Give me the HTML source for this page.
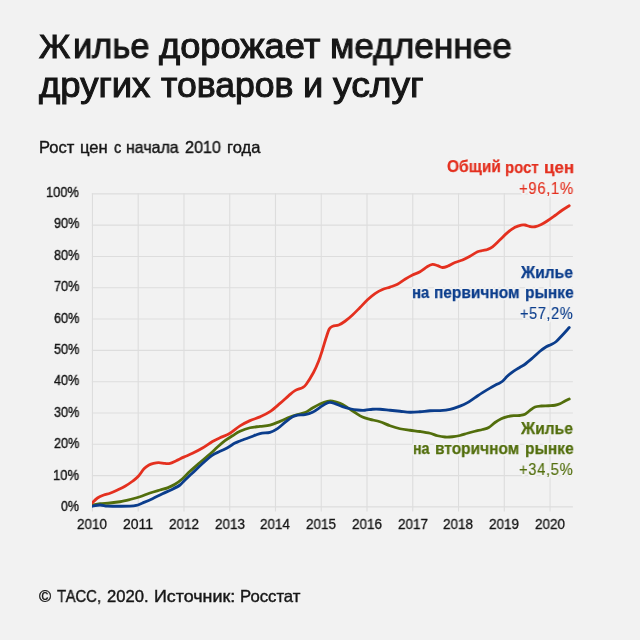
<!DOCTYPE html>
<html><head><meta charset="utf-8">
<style>
html,body{margin:0;padding:0;}
body{width:640px;height:640px;background:#f2f2f2;position:relative;overflow:hidden;font-family:"Liberation Sans",sans-serif;}
.t{position:absolute;white-space:nowrap;line-height:1;transform-origin:0 0;will-change:transform;}
svg{position:absolute;left:0;top:0;}
</style></head><body>
<svg width="640" height="640" viewBox="0 0 640 640">
<g stroke="#dddddd" stroke-width="1.1" fill="none"><line x1="92.45" y1="193.25" x2="92.45" y2="511.50"/><line x1="138.21" y1="193.25" x2="138.21" y2="511.50"/><line x1="183.97" y1="193.25" x2="183.97" y2="511.50"/><line x1="229.73" y1="193.25" x2="229.73" y2="511.50"/><line x1="275.49" y1="193.25" x2="275.49" y2="511.50"/><line x1="321.25" y1="193.25" x2="321.25" y2="511.50"/><line x1="367.01" y1="193.25" x2="367.01" y2="511.50"/><line x1="412.77" y1="193.25" x2="412.77" y2="511.50"/><line x1="458.53" y1="193.25" x2="458.53" y2="511.50"/><line x1="504.29" y1="193.25" x2="504.29" y2="511.50"/><line x1="550.05" y1="193.25" x2="550.05" y2="511.50"/><line x1="91.85" y1="506.90" x2="572.90" y2="506.90"/><line x1="91.85" y1="475.59" x2="572.90" y2="475.59"/><line x1="91.85" y1="444.29" x2="572.90" y2="444.29"/><line x1="91.85" y1="412.99" x2="572.90" y2="412.99"/><line x1="91.85" y1="381.68" x2="572.90" y2="381.68"/><line x1="91.85" y1="350.38" x2="572.90" y2="350.38"/><line x1="91.85" y1="319.07" x2="572.90" y2="319.07"/><line x1="91.85" y1="287.76" x2="572.90" y2="287.76"/><line x1="91.85" y1="256.46" x2="572.90" y2="256.46"/><line x1="91.85" y1="225.15" x2="572.90" y2="225.15"/><line x1="91.85" y1="193.85" x2="572.90" y2="193.85"/></g>
<clipPath id="cp"><rect x="91.9" y="150" width="520" height="400"/></clipPath>
<g fill="none" stroke-width="2.8" stroke-linecap="round" stroke-linejoin="round" clip-path="url(#cp)">
<path stroke="#526e0c" d="M92.00 505.00 C93.33 504.79 97.00 504.08 100.00 503.75 C103.00 503.42 106.67 503.33 110.00 503.00 C113.33 502.67 116.67 502.33 120.00 501.75 C123.33 501.17 126.67 500.33 130.00 499.50 C133.33 498.67 136.67 497.83 140.00 496.75 C143.33 495.67 146.67 494.12 150.00 493.00 C153.33 491.88 157.08 490.85 160.00 490.00 C162.92 489.15 165.00 488.83 167.50 487.88 C170.00 486.92 172.50 485.77 175.00 484.25 C177.50 482.73 180.00 480.92 182.50 478.75 C185.00 476.58 187.08 473.96 190.00 471.25 C192.92 468.54 196.67 465.38 200.00 462.50 C203.33 459.62 207.08 456.57 210.00 454.00 C212.92 451.43 215.00 449.27 217.50 447.05 C220.00 444.83 222.50 442.58 225.00 440.70 C227.50 438.82 230.00 437.32 232.50 435.75 C235.00 434.18 237.08 432.63 240.00 431.30 C242.92 429.97 246.67 428.57 250.00 427.75 C253.33 426.93 256.67 426.84 260.00 426.40 C263.33 425.96 266.67 425.97 270.00 425.13 C273.33 424.29 276.67 422.70 280.00 421.36 C283.33 420.02 287.08 418.22 290.00 417.09 C292.92 415.96 295.00 415.33 297.50 414.57 C300.00 413.82 302.50 413.65 305.00 412.56 C307.50 411.47 310.00 409.45 312.50 408.01 C315.00 406.58 317.50 405.10 320.00 403.98 C322.50 402.85 325.42 401.73 327.50 401.25 C329.58 400.77 330.42 400.78 332.50 401.12 C334.58 401.47 337.50 402.23 340.00 403.30 C342.50 404.38 345.00 406.04 347.50 407.57 C350.00 409.11 352.50 410.92 355.00 412.50 C357.50 414.08 360.00 415.92 362.50 417.06 C365.00 418.21 367.08 418.59 370.00 419.37 C372.92 420.15 376.67 420.69 380.00 421.75 C383.33 422.81 386.67 424.58 390.00 425.75 C393.33 426.92 396.67 428.00 400.00 428.75 C403.33 429.50 406.67 429.79 410.00 430.25 C413.33 430.71 416.67 431.00 420.00 431.50 C423.33 432.00 427.08 432.54 430.00 433.25 C432.92 433.96 435.00 435.12 437.50 435.75 C440.00 436.38 442.50 436.83 445.00 437.00 C447.50 437.17 450.00 437.00 452.50 436.75 C455.00 436.50 457.50 436.08 460.00 435.50 C462.50 434.92 465.00 433.96 467.50 433.25 C470.00 432.54 472.50 431.88 475.00 431.25 C477.50 430.62 480.21 430.12 482.50 429.50 C484.79 428.88 486.67 428.67 488.75 427.50 C490.83 426.33 492.92 423.96 495.00 422.50 C497.08 421.04 499.17 419.73 501.25 418.75 C503.33 417.77 505.42 417.14 507.50 416.62 C509.58 416.11 511.67 415.88 513.75 415.69 C515.83 415.50 518.12 415.74 520.00 415.50 C521.88 415.26 523.33 415.11 525.00 414.25 C526.67 413.39 528.33 411.57 530.00 410.36 C531.67 409.15 533.12 407.73 535.00 407.00 C536.88 406.27 538.96 406.21 541.25 406.00 C543.54 405.79 546.46 405.88 548.75 405.75 C551.04 405.62 553.12 405.58 555.00 405.25 C556.88 404.92 558.33 404.46 560.00 403.75 C561.67 403.04 563.46 401.79 565.00 401.00 C566.54 400.21 568.54 399.33 569.25 399.00"/>
<path stroke="#0b3d8c" d="M92.00 506.25 C93.33 506.04 97.42 505.02 100.00 505.00 C102.58 504.98 104.58 505.94 107.50 506.15 C110.42 506.36 113.75 506.25 117.50 506.25 C121.25 506.25 126.88 506.29 130.00 506.15 C133.12 506.01 134.17 505.96 136.25 505.44 C138.33 504.91 139.79 504.11 142.50 503.00 C145.21 501.89 149.17 500.29 152.50 498.75 C155.83 497.21 159.17 495.33 162.50 493.75 C165.83 492.17 169.58 490.71 172.50 489.25 C175.42 487.79 177.92 486.54 180.00 485.00 C182.08 483.46 182.92 481.98 185.00 480.00 C187.08 478.02 189.58 475.84 192.50 473.10 C195.42 470.35 199.17 466.51 202.50 463.52 C205.83 460.52 209.58 457.16 212.50 455.12 C215.42 453.09 217.50 452.56 220.00 451.32 C222.50 450.07 225.00 449.04 227.50 447.67 C230.00 446.30 232.92 444.21 235.00 443.10 C237.08 441.99 237.50 441.97 240.00 441.00 C242.50 440.03 246.67 438.51 250.00 437.27 C253.33 436.03 256.67 434.37 260.00 433.54 C263.33 432.72 267.08 433.14 270.00 432.32 C272.92 431.49 275.00 430.24 277.50 428.58 C280.00 426.92 282.50 424.31 285.00 422.35 C287.50 420.39 290.42 418.06 292.50 416.85 C294.58 415.64 295.42 415.48 297.50 415.10 C299.58 414.73 302.50 415.07 305.00 414.60 C307.50 414.13 310.00 413.48 312.50 412.28 C315.00 411.08 317.71 408.88 320.00 407.40 C322.29 405.92 324.58 404.23 326.25 403.40 C327.92 402.57 328.54 402.36 330.00 402.40 C331.46 402.44 332.92 402.96 335.00 403.65 C337.08 404.34 340.00 405.70 342.50 406.55 C345.00 407.40 347.50 408.18 350.00 408.75 C352.50 409.32 355.00 409.75 357.50 410.00 C360.00 410.25 362.50 410.38 365.00 410.25 C367.50 410.12 370.00 409.42 372.50 409.25 C375.00 409.08 377.08 409.08 380.00 409.25 C382.92 409.42 386.67 409.92 390.00 410.25 C393.33 410.58 396.67 410.92 400.00 411.25 C403.33 411.58 406.67 412.17 410.00 412.25 C413.33 412.33 416.67 412.00 420.00 411.75 C423.33 411.50 426.67 410.95 430.00 410.75 C433.33 410.55 436.67 410.78 440.00 410.55 C443.33 410.32 446.67 410.09 450.00 409.35 C453.33 408.61 457.08 407.23 460.00 406.10 C462.92 404.98 465.00 404.02 467.50 402.60 C470.00 401.18 472.50 399.27 475.00 397.60 C477.50 395.93 480.00 394.18 482.50 392.60 C485.00 391.02 487.50 389.52 490.00 388.10 C492.50 386.68 495.42 385.23 497.50 384.09 C499.58 382.95 500.83 382.60 502.50 381.26 C504.17 379.92 505.62 377.75 507.50 376.05 C509.38 374.35 511.67 372.52 513.75 371.05 C515.83 369.58 518.12 368.36 520.00 367.23 C521.88 366.10 522.92 365.79 525.00 364.25 C527.08 362.71 530.00 360.17 532.50 358.00 C535.00 355.83 537.71 353.12 540.00 351.25 C542.29 349.38 544.38 347.88 546.25 346.75 C548.12 345.62 549.58 345.38 551.25 344.50 C552.92 343.62 554.38 343.08 556.25 341.50 C558.12 339.92 560.33 337.33 562.50 335.00 C564.67 332.67 568.12 328.75 569.25 327.50"/>
<path stroke="#e4301f" d="M92.00 503.00 C92.92 502.17 95.54 499.33 97.50 498.00 C99.46 496.67 101.67 495.79 103.75 495.00 C105.83 494.21 107.71 494.08 110.00 493.25 C112.29 492.42 115.00 491.17 117.50 490.00 C120.00 488.83 122.50 487.71 125.00 486.25 C127.50 484.79 130.28 482.92 132.50 481.25 C134.72 479.58 136.42 478.33 138.33 476.25 C140.25 474.17 142.22 470.62 144.00 468.75 C145.78 466.88 147.42 465.90 149.00 465.00 C150.58 464.10 151.88 463.73 153.50 463.33 C155.12 462.93 156.83 462.57 158.75 462.59 C160.67 462.61 163.12 463.31 165.00 463.45 C166.88 463.59 168.12 463.89 170.00 463.43 C171.88 462.96 173.96 461.70 176.25 460.65 C178.54 459.60 181.04 458.34 183.75 457.12 C186.46 455.90 189.38 454.84 192.50 453.33 C195.62 451.81 199.17 450.00 202.50 448.03 C205.83 446.07 209.58 443.26 212.50 441.55 C215.42 439.84 217.08 439.19 220.00 437.80 C222.92 436.41 226.67 435.18 230.00 433.20 C233.33 431.22 236.67 427.99 240.00 425.90 C243.33 423.81 246.67 422.15 250.00 420.65 C253.33 419.15 256.67 418.39 260.00 416.90 C263.33 415.41 266.67 413.93 270.00 411.68 C273.33 409.44 276.88 406.11 280.00 403.43 C283.12 400.74 286.25 397.74 288.75 395.60 C291.25 393.46 292.71 391.93 295.00 390.60 C297.29 389.27 300.62 388.67 302.50 387.60 C304.38 386.53 304.42 386.72 306.25 384.20 C308.08 381.68 311.44 376.32 313.50 372.50 C315.56 368.68 317.10 365.00 318.58 361.25 C320.06 357.50 321.12 353.96 322.39 350.00 C323.66 346.04 325.03 341.04 326.20 337.50 C327.37 333.96 328.33 330.62 329.43 328.75 C330.52 326.88 331.20 326.88 332.75 326.25 C334.30 325.62 336.71 325.83 338.75 325.00 C340.79 324.17 342.71 322.92 345.00 321.25 C347.29 319.58 350.00 317.29 352.50 315.00 C355.00 312.71 357.50 310.03 360.00 307.50 C362.50 304.97 365.00 302.14 367.50 299.82 C370.00 297.51 372.50 295.33 375.00 293.60 C377.50 291.88 380.00 290.57 382.50 289.49 C385.00 288.40 387.50 287.97 390.00 287.10 C392.50 286.23 395.00 285.56 397.50 284.25 C400.00 282.94 402.50 280.79 405.00 279.25 C407.50 277.71 410.00 276.25 412.50 275.00 C415.00 273.75 417.50 273.16 420.00 271.75 C422.50 270.34 425.42 267.75 427.50 266.54 C429.58 265.32 430.83 264.64 432.50 264.48 C434.17 264.32 435.83 265.06 437.50 265.57 C439.17 266.07 440.83 267.39 442.50 267.50 C444.17 267.61 445.42 267.08 447.50 266.25 C449.58 265.42 452.50 263.54 455.00 262.50 C457.50 261.46 460.00 261.04 462.50 260.00 C465.00 258.96 467.50 257.62 470.00 256.25 C472.50 254.88 475.42 252.71 477.50 251.75 C479.58 250.79 480.83 250.88 482.50 250.50 C484.17 250.12 485.83 250.11 487.50 249.50 C489.17 248.89 490.42 248.47 492.50 246.85 C494.58 245.22 497.50 242.13 500.00 239.75 C502.50 237.37 505.00 234.62 507.50 232.55 C510.00 230.48 512.71 228.60 515.00 227.35 C517.29 226.10 519.58 225.46 521.25 225.06 C522.92 224.67 523.54 224.76 525.00 225.00 C526.46 225.24 528.33 226.21 530.00 226.50 C531.67 226.79 533.12 227.08 535.00 226.75 C536.88 226.42 539.17 225.50 541.25 224.50 C543.33 223.50 545.21 222.25 547.50 220.75 C549.79 219.25 552.50 217.29 555.00 215.50 C557.50 213.71 560.12 211.62 562.50 210.00 C564.88 208.38 568.12 206.46 569.25 205.75"/>
</g>
</svg>
<div class="t" style="left:39.33px;top:30.02px;font-size:33.6px;color:#161616;-webkit-text-stroke:1.05px #161616;transform:scaleX(1.0080);">Ж</div>
<div class="t" style="left:72.57px;top:28.93px;font-size:35.6px;color:#161616;-webkit-text-stroke:1.05px #161616;transform:scaleX(0.9673);">илье</div>
<div class="t" style="left:158.99px;top:28.93px;font-size:35.6px;color:#161616;-webkit-text-stroke:1.05px #161616;transform:scaleX(1.0192);">дорожает</div>
<div class="t" style="left:329.92px;top:28.93px;font-size:35.6px;color:#161616;-webkit-text-stroke:1.05px #161616;transform:scaleX(0.9910);">медленнее</div>
<div class="t" style="left:38.79px;top:67.73px;font-size:35.6px;color:#161616;-webkit-text-stroke:1.05px #161616;transform:scaleX(1.0256);">других</div>
<div class="t" style="left:161.22px;top:67.73px;font-size:35.6px;color:#161616;-webkit-text-stroke:1.05px #161616;transform:scaleX(1.0004);">товаров</div>
<div class="t" style="left:302.97px;top:67.73px;font-size:35.6px;color:#161616;-webkit-text-stroke:1.05px #161616;transform:scaleX(1.0173);">и</div>
<div class="t" style="left:333.20px;top:67.73px;font-size:35.6px;color:#161616;-webkit-text-stroke:1.05px #161616;transform:scaleX(1.0455);">услуг</div>
<div class="t" style="left:38.91px;top:138.83px;font-size:16.5px;color:#161616;-webkit-text-stroke:0.4px #161616;transform:scaleX(0.9954);">Рост</div>
<div class="t" style="left:79.70px;top:138.83px;font-size:16.5px;color:#161616;-webkit-text-stroke:0.4px #161616;transform:scaleX(1.0073);">цен</div>
<div class="t" style="left:113.55px;top:138.83px;font-size:16.5px;color:#161616;-webkit-text-stroke:0.4px #161616;transform:scaleX(0.8770);">с</div>
<div class="t" style="left:126.49px;top:138.83px;font-size:16.5px;color:#161616;-webkit-text-stroke:0.4px #161616;transform:scaleX(0.9667);">начала</div>
<div class="t" style="left:185.24px;top:138.83px;font-size:16.5px;color:#161616;-webkit-text-stroke:0.4px #161616;transform:scaleX(0.9796);">2010</div>
<div class="t" style="left:226.96px;top:138.83px;font-size:16.5px;color:#161616;-webkit-text-stroke:0.4px #161616;transform:scaleX(1.0022);">года</div>
<div class="t" style="left:39.42px;top:587.93px;font-size:16.5px;color:#161616;-webkit-text-stroke:0.4px #161616;transform:scaleX(0.9901);">©</div>
<div class="t" style="left:57.41px;top:587.93px;font-size:16.5px;color:#161616;-webkit-text-stroke:0.4px #161616;transform:scaleX(0.9089);">ТАСС,</div>
<div class="t" style="left:106.74px;top:587.93px;font-size:16.5px;color:#161616;-webkit-text-stroke:0.4px #161616;transform:scaleX(1.0078);">2020.</div>
<div class="t" style="left:153.82px;top:587.93px;font-size:16.5px;color:#161616;-webkit-text-stroke:0.4px #161616;transform:scaleX(1.0819);">Источник:</div>
<div class="t" style="left:240.14px;top:587.93px;font-size:16.5px;color:#161616;-webkit-text-stroke:0.4px #161616;transform:scaleX(1.0123);">Росстат</div>
<div class="t" style="left:61.14px;top:498.54px;font-size:14px;color:#161616;-webkit-text-stroke:0.4px #161616;transform:scaleX(0.8877);">0%</div>
<div class="t" style="left:52.85px;top:467.63px;font-size:14px;color:#161616;-webkit-text-stroke:0.4px #161616;transform:scaleX(0.9329);">10%</div>
<div class="t" style="left:53.62px;top:435.71px;font-size:14px;color:#161616;-webkit-text-stroke:0.4px #161616;transform:scaleX(0.9051);">20%</div>
<div class="t" style="left:53.64px;top:404.80px;font-size:14px;color:#161616;-webkit-text-stroke:0.4px #161616;transform:scaleX(0.9043);">30%</div>
<div class="t" style="left:53.70px;top:372.88px;font-size:14px;color:#161616;-webkit-text-stroke:0.4px #161616;transform:scaleX(0.9020);">40%</div>
<div class="t" style="left:53.59px;top:341.97px;font-size:14px;color:#161616;-webkit-text-stroke:0.4px #161616;transform:scaleX(0.9061);">50%</div>
<div class="t" style="left:53.59px;top:311.05px;font-size:14px;color:#161616;-webkit-text-stroke:0.4px #161616;transform:scaleX(0.9060);">60%</div>
<div class="t" style="left:53.61px;top:279.14px;font-size:14px;color:#161616;-webkit-text-stroke:0.4px #161616;transform:scaleX(0.9055);">70%</div>
<div class="t" style="left:53.62px;top:248.22px;font-size:14px;color:#161616;-webkit-text-stroke:0.4px #161616;transform:scaleX(0.9051);">80%</div>
<div class="t" style="left:53.60px;top:216.31px;font-size:14px;color:#161616;-webkit-text-stroke:0.4px #161616;transform:scaleX(0.9059);">90%</div>
<div class="t" style="left:45.86px;top:185.39px;font-size:14px;color:#161616;-webkit-text-stroke:0.4px #161616;transform:scaleX(0.9218);">100%</div>
<div class="t" style="left:77.32px;top:517.44px;font-size:14px;color:#161616;-webkit-text-stroke:0.3px #161616;transform:scaleX(0.9652);">2010</div>
<div class="t" style="left:123.07px;top:517.44px;font-size:14px;color:#161616;-webkit-text-stroke:0.3px #161616;transform:scaleX(0.9983);">2011</div>
<div class="t" style="left:168.84px;top:517.44px;font-size:14px;color:#161616;-webkit-text-stroke:0.3px #161616;transform:scaleX(0.9659);">2012</div>
<div class="t" style="left:214.60px;top:517.44px;font-size:14px;color:#161616;-webkit-text-stroke:0.3px #161616;transform:scaleX(0.9660);">2013</div>
<div class="t" style="left:260.36px;top:517.44px;font-size:14px;color:#161616;-webkit-text-stroke:0.3px #161616;transform:scaleX(0.9625);">2014</div>
<div class="t" style="left:306.12px;top:517.44px;font-size:14px;color:#161616;-webkit-text-stroke:0.3px #161616;transform:scaleX(0.9656);">2015</div>
<div class="t" style="left:351.88px;top:517.44px;font-size:14px;color:#161616;-webkit-text-stroke:0.3px #161616;transform:scaleX(0.9657);">2016</div>
<div class="t" style="left:397.64px;top:517.44px;font-size:14px;color:#161616;-webkit-text-stroke:0.3px #161616;transform:scaleX(0.9659);">2017</div>
<div class="t" style="left:443.40px;top:517.44px;font-size:14px;color:#161616;-webkit-text-stroke:0.3px #161616;transform:scaleX(0.9659);">2018</div>
<div class="t" style="left:489.16px;top:517.44px;font-size:14px;color:#161616;-webkit-text-stroke:0.3px #161616;transform:scaleX(0.9664);">2019</div>
<div class="t" style="left:534.92px;top:517.44px;font-size:14px;color:#161616;-webkit-text-stroke:0.3px #161616;transform:scaleX(0.9652);">2020</div>
<div class="t" style="left:447.23px;top:158.28px;font-size:16.5px;color:#e4301f;font-weight:bold;-webkit-text-stroke:0.25px #e4301f;transform:scaleX(0.9423);text-shadow:-2px -1px 0 #f2f2f2,-2px 0px 0 #f2f2f2,-2px 1px 0 #f2f2f2,-1px -2px 0 #f2f2f2,-1px -1px 0 #f2f2f2,-1px 0px 0 #f2f2f2,-1px 1px 0 #f2f2f2,-1px 2px 0 #f2f2f2,0px -2px 0 #f2f2f2,0px -1px 0 #f2f2f2,0px 1px 0 #f2f2f2,0px 2px 0 #f2f2f2,1px -2px 0 #f2f2f2,1px -1px 0 #f2f2f2,1px 0px 0 #f2f2f2,1px 1px 0 #f2f2f2,1px 2px 0 #f2f2f2,2px -1px 0 #f2f2f2,2px 0px 0 #f2f2f2,2px 1px 0 #f2f2f2;">Общий</div>
<div class="t" style="left:504.68px;top:158.77px;font-size:17.1px;color:#e4301f;font-weight:bold;-webkit-text-stroke:0.25px #e4301f;transform:scaleX(0.8717);text-shadow:-2px -1px 0 #f2f2f2,-2px 0px 0 #f2f2f2,-2px 1px 0 #f2f2f2,-1px -2px 0 #f2f2f2,-1px -1px 0 #f2f2f2,-1px 0px 0 #f2f2f2,-1px 1px 0 #f2f2f2,-1px 2px 0 #f2f2f2,0px -2px 0 #f2f2f2,0px -1px 0 #f2f2f2,0px 1px 0 #f2f2f2,0px 2px 0 #f2f2f2,1px -2px 0 #f2f2f2,1px -1px 0 #f2f2f2,1px 0px 0 #f2f2f2,1px 1px 0 #f2f2f2,1px 2px 0 #f2f2f2,2px -1px 0 #f2f2f2,2px 0px 0 #f2f2f2,2px 1px 0 #f2f2f2;">рост</div>
<div class="t" style="left:544.35px;top:158.77px;font-size:17.1px;color:#e4301f;font-weight:bold;-webkit-text-stroke:0.25px #e4301f;transform:scaleX(0.9915);text-shadow:-2px -1px 0 #f2f2f2,-2px 0px 0 #f2f2f2,-2px 1px 0 #f2f2f2,-1px -2px 0 #f2f2f2,-1px -1px 0 #f2f2f2,-1px 0px 0 #f2f2f2,-1px 1px 0 #f2f2f2,-1px 2px 0 #f2f2f2,0px -2px 0 #f2f2f2,0px -1px 0 #f2f2f2,0px 1px 0 #f2f2f2,0px 2px 0 #f2f2f2,1px -2px 0 #f2f2f2,1px -1px 0 #f2f2f2,1px 0px 0 #f2f2f2,1px 1px 0 #f2f2f2,1px 2px 0 #f2f2f2,2px -1px 0 #f2f2f2,2px 0px 0 #f2f2f2,2px 1px 0 #f2f2f2;">цен</div>
<div class="t" style="left:519.10px;top:180.08px;font-size:16.5px;color:#e4301f;-webkit-text-stroke:0.15px #e4301f;transform:scaleX(0.9046);text-shadow:-2px -1px 0 #f2f2f2,-2px 0px 0 #f2f2f2,-2px 1px 0 #f2f2f2,-1px -2px 0 #f2f2f2,-1px -1px 0 #f2f2f2,-1px 0px 0 #f2f2f2,-1px 1px 0 #f2f2f2,-1px 2px 0 #f2f2f2,0px -2px 0 #f2f2f2,0px -1px 0 #f2f2f2,0px 1px 0 #f2f2f2,0px 2px 0 #f2f2f2,1px -2px 0 #f2f2f2,1px -1px 0 #f2f2f2,1px 0px 0 #f2f2f2,1px 1px 0 #f2f2f2,1px 2px 0 #f2f2f2,2px -1px 0 #f2f2f2,2px 0px 0 #f2f2f2,2px 1px 0 #f2f2f2;letter-spacing:0.7px;">+96,1%</div>
<div class="t" style="left:521.10px;top:263.58px;font-size:16.5px;color:#0b3d8c;font-weight:bold;-webkit-text-stroke:0.25px #0b3d8c;transform:scaleX(0.9465);text-shadow:-2px -1px 0 #f2f2f2,-2px 0px 0 #f2f2f2,-2px 1px 0 #f2f2f2,-1px -2px 0 #f2f2f2,-1px -1px 0 #f2f2f2,-1px 0px 0 #f2f2f2,-1px 1px 0 #f2f2f2,-1px 2px 0 #f2f2f2,0px -2px 0 #f2f2f2,0px -1px 0 #f2f2f2,0px 1px 0 #f2f2f2,0px 2px 0 #f2f2f2,1px -2px 0 #f2f2f2,1px -1px 0 #f2f2f2,1px 0px 0 #f2f2f2,1px 1px 0 #f2f2f2,1px 2px 0 #f2f2f2,2px -1px 0 #f2f2f2,2px 0px 0 #f2f2f2,2px 1px 0 #f2f2f2;">Жилье</div>
<div class="t" style="left:411.58px;top:284.27px;font-size:17.1px;color:#0b3d8c;font-weight:bold;-webkit-text-stroke:0.25px #0b3d8c;transform:scaleX(0.8704);text-shadow:-2px -1px 0 #f2f2f2,-2px 0px 0 #f2f2f2,-2px 1px 0 #f2f2f2,-1px -2px 0 #f2f2f2,-1px -1px 0 #f2f2f2,-1px 0px 0 #f2f2f2,-1px 1px 0 #f2f2f2,-1px 2px 0 #f2f2f2,0px -2px 0 #f2f2f2,0px -1px 0 #f2f2f2,0px 1px 0 #f2f2f2,0px 2px 0 #f2f2f2,1px -2px 0 #f2f2f2,1px -1px 0 #f2f2f2,1px 0px 0 #f2f2f2,1px 1px 0 #f2f2f2,1px 2px 0 #f2f2f2,2px -1px 0 #f2f2f2,2px 0px 0 #f2f2f2,2px 1px 0 #f2f2f2;">на</div>
<div class="t" style="left:433.74px;top:284.27px;font-size:17.1px;color:#0b3d8c;font-weight:bold;-webkit-text-stroke:0.25px #0b3d8c;transform:scaleX(0.9056);text-shadow:-2px -1px 0 #f2f2f2,-2px 0px 0 #f2f2f2,-2px 1px 0 #f2f2f2,-1px -2px 0 #f2f2f2,-1px -1px 0 #f2f2f2,-1px 0px 0 #f2f2f2,-1px 1px 0 #f2f2f2,-1px 2px 0 #f2f2f2,0px -2px 0 #f2f2f2,0px -1px 0 #f2f2f2,0px 1px 0 #f2f2f2,0px 2px 0 #f2f2f2,1px -2px 0 #f2f2f2,1px -1px 0 #f2f2f2,1px 0px 0 #f2f2f2,1px 1px 0 #f2f2f2,1px 2px 0 #f2f2f2,2px -1px 0 #f2f2f2,2px 0px 0 #f2f2f2,2px 1px 0 #f2f2f2;">первичном</div>
<div class="t" style="left:524.64px;top:284.27px;font-size:17.1px;color:#0b3d8c;font-weight:bold;-webkit-text-stroke:0.25px #0b3d8c;transform:scaleX(0.9118);text-shadow:-2px -1px 0 #f2f2f2,-2px 0px 0 #f2f2f2,-2px 1px 0 #f2f2f2,-1px -2px 0 #f2f2f2,-1px -1px 0 #f2f2f2,-1px 0px 0 #f2f2f2,-1px 1px 0 #f2f2f2,-1px 2px 0 #f2f2f2,0px -2px 0 #f2f2f2,0px -1px 0 #f2f2f2,0px 1px 0 #f2f2f2,0px 2px 0 #f2f2f2,1px -2px 0 #f2f2f2,1px -1px 0 #f2f2f2,1px 0px 0 #f2f2f2,1px 1px 0 #f2f2f2,1px 2px 0 #f2f2f2,2px -1px 0 #f2f2f2,2px 0px 0 #f2f2f2,2px 1px 0 #f2f2f2;">рынке</div>
<div class="t" style="left:520.37px;top:304.88px;font-size:16.5px;color:#0b3d8c;-webkit-text-stroke:0.15px #0b3d8c;transform:scaleX(0.8799);text-shadow:-2px -1px 0 #f2f2f2,-2px 0px 0 #f2f2f2,-2px 1px 0 #f2f2f2,-1px -2px 0 #f2f2f2,-1px -1px 0 #f2f2f2,-1px 0px 0 #f2f2f2,-1px 1px 0 #f2f2f2,-1px 2px 0 #f2f2f2,0px -2px 0 #f2f2f2,0px -1px 0 #f2f2f2,0px 1px 0 #f2f2f2,0px 2px 0 #f2f2f2,1px -2px 0 #f2f2f2,1px -1px 0 #f2f2f2,1px 0px 0 #f2f2f2,1px 1px 0 #f2f2f2,1px 2px 0 #f2f2f2,2px -1px 0 #f2f2f2,2px 0px 0 #f2f2f2,2px 1px 0 #f2f2f2;letter-spacing:0.7px;">+57,2%</div>
<div class="t" style="left:521.10px;top:420.08px;font-size:16.5px;color:#526e0c;font-weight:bold;-webkit-text-stroke:0.25px #526e0c;transform:scaleX(0.9465);text-shadow:-2px -1px 0 #f2f2f2,-2px 0px 0 #f2f2f2,-2px 1px 0 #f2f2f2,-1px -2px 0 #f2f2f2,-1px -1px 0 #f2f2f2,-1px 0px 0 #f2f2f2,-1px 1px 0 #f2f2f2,-1px 2px 0 #f2f2f2,0px -2px 0 #f2f2f2,0px -1px 0 #f2f2f2,0px 1px 0 #f2f2f2,0px 2px 0 #f2f2f2,1px -2px 0 #f2f2f2,1px -1px 0 #f2f2f2,1px 0px 0 #f2f2f2,1px 1px 0 #f2f2f2,1px 2px 0 #f2f2f2,2px -1px 0 #f2f2f2,2px 0px 0 #f2f2f2,2px 1px 0 #f2f2f2;">Жилье</div>
<div class="t" style="left:413.12px;top:440.07px;font-size:17.1px;color:#526e0c;font-weight:bold;-webkit-text-stroke:0.25px #526e0c;transform:scaleX(0.8332);text-shadow:-2px -1px 0 #f2f2f2,-2px 0px 0 #f2f2f2,-2px 1px 0 #f2f2f2,-1px -2px 0 #f2f2f2,-1px -1px 0 #f2f2f2,-1px 0px 0 #f2f2f2,-1px 1px 0 #f2f2f2,-1px 2px 0 #f2f2f2,0px -2px 0 #f2f2f2,0px -1px 0 #f2f2f2,0px 1px 0 #f2f2f2,0px 2px 0 #f2f2f2,1px -2px 0 #f2f2f2,1px -1px 0 #f2f2f2,1px 0px 0 #f2f2f2,1px 1px 0 #f2f2f2,1px 2px 0 #f2f2f2,2px -1px 0 #f2f2f2,2px 0px 0 #f2f2f2,2px 1px 0 #f2f2f2;">на</div>
<div class="t" style="left:435.29px;top:440.07px;font-size:17.1px;color:#526e0c;font-weight:bold;-webkit-text-stroke:0.25px #526e0c;transform:scaleX(0.9065);text-shadow:-2px -1px 0 #f2f2f2,-2px 0px 0 #f2f2f2,-2px 1px 0 #f2f2f2,-1px -2px 0 #f2f2f2,-1px -1px 0 #f2f2f2,-1px 0px 0 #f2f2f2,-1px 1px 0 #f2f2f2,-1px 2px 0 #f2f2f2,0px -2px 0 #f2f2f2,0px -1px 0 #f2f2f2,0px 1px 0 #f2f2f2,0px 2px 0 #f2f2f2,1px -2px 0 #f2f2f2,1px -1px 0 #f2f2f2,1px 0px 0 #f2f2f2,1px 1px 0 #f2f2f2,1px 2px 0 #f2f2f2,2px -1px 0 #f2f2f2,2px 0px 0 #f2f2f2,2px 1px 0 #f2f2f2;">вторичном</div>
<div class="t" style="left:524.64px;top:440.07px;font-size:17.1px;color:#526e0c;font-weight:bold;-webkit-text-stroke:0.25px #526e0c;transform:scaleX(0.9118);text-shadow:-2px -1px 0 #f2f2f2,-2px 0px 0 #f2f2f2,-2px 1px 0 #f2f2f2,-1px -2px 0 #f2f2f2,-1px -1px 0 #f2f2f2,-1px 0px 0 #f2f2f2,-1px 1px 0 #f2f2f2,-1px 2px 0 #f2f2f2,0px -2px 0 #f2f2f2,0px -1px 0 #f2f2f2,0px 1px 0 #f2f2f2,0px 2px 0 #f2f2f2,1px -2px 0 #f2f2f2,1px -1px 0 #f2f2f2,1px 0px 0 #f2f2f2,1px 1px 0 #f2f2f2,1px 2px 0 #f2f2f2,2px -1px 0 #f2f2f2,2px 0px 0 #f2f2f2,2px 1px 0 #f2f2f2;">рынке</div>
<div class="t" style="left:519.30px;top:461.08px;font-size:16.5px;color:#526e0c;-webkit-text-stroke:0.15px #526e0c;transform:scaleX(0.8978);text-shadow:-2px -1px 0 #f2f2f2,-2px 0px 0 #f2f2f2,-2px 1px 0 #f2f2f2,-1px -2px 0 #f2f2f2,-1px -1px 0 #f2f2f2,-1px 0px 0 #f2f2f2,-1px 1px 0 #f2f2f2,-1px 2px 0 #f2f2f2,0px -2px 0 #f2f2f2,0px -1px 0 #f2f2f2,0px 1px 0 #f2f2f2,0px 2px 0 #f2f2f2,1px -2px 0 #f2f2f2,1px -1px 0 #f2f2f2,1px 0px 0 #f2f2f2,1px 1px 0 #f2f2f2,1px 2px 0 #f2f2f2,2px -1px 0 #f2f2f2,2px 0px 0 #f2f2f2,2px 1px 0 #f2f2f2;letter-spacing:0.7px;">+34,5%</div>
</body></html>
